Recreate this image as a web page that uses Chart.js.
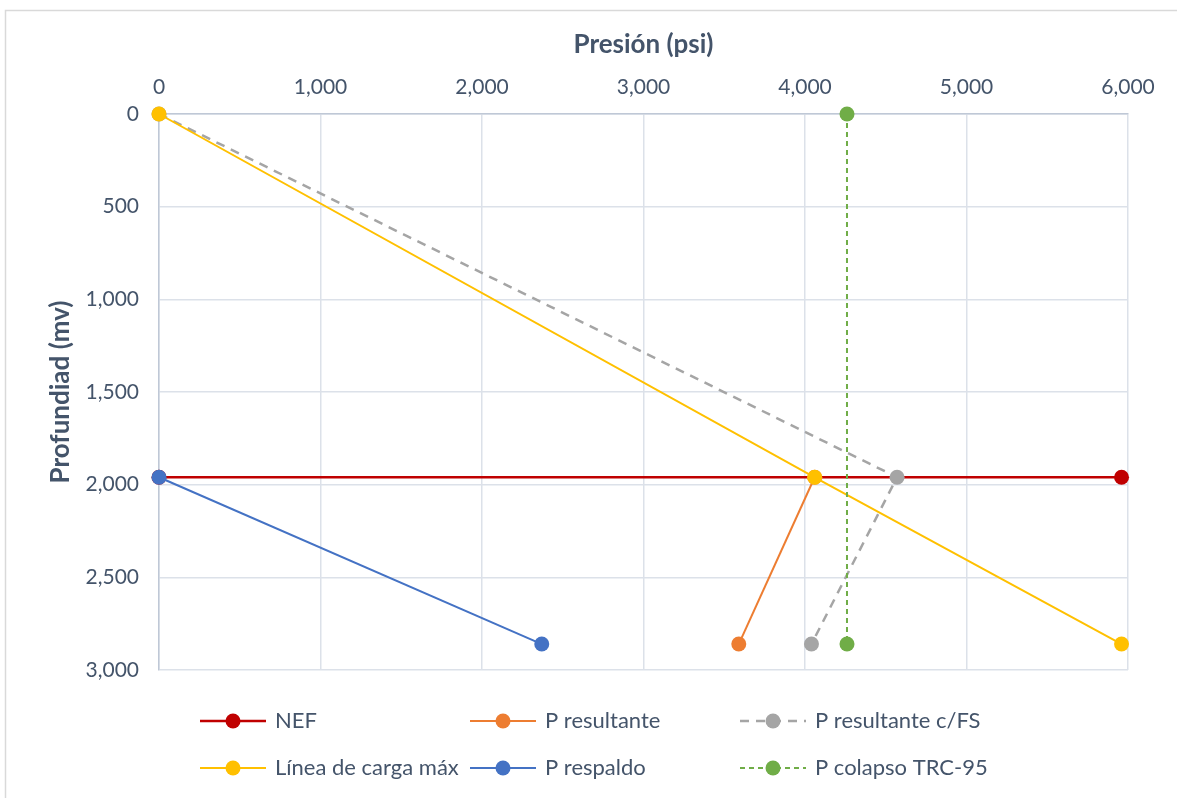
<!DOCTYPE html>
<html><head><meta charset="utf-8">
<script src="https://cdn.jsdelivr.net/npm/chart.js@4"></script>
<style>html,body{margin:0;padding:0;background:#fff;}#wrap{width:1177px;height:798px;position:relative;}</style>
</head><body><div id="wrap"><canvas id="c" width="1177" height="798"></canvas></div>
<script>
// ---- data ----
const seriesNames = ['NEF', 'P resultante', 'P resultante c/FS', 'Línea de carga máx', 'P respaldo', 'P colapso TRC-95'];
const nefPressure = [0, 5960];
const nefDepth = [1960, 1960];
const resultantePressure = [4060, 3590];
const resultanteDepth = [1960, 2860];
const resultanteFSPressure = [0, 4570, 4040];
const resultanteFSDepth = [0, 1960, 2860];
const cargaPressure = [0, 4060, 5960];
const cargaDepth = [0, 1960, 2860];
const respaldoPressure = [0, 2370];
const respaldoDepth = [1960, 2860];
const colapsoPressure = [4260, 4260];
const colapsoDepth = [0, 2860];
const pressureTicks = [0, 1000, 2000, 3000, 4000, 5000, 6000];
const depthTicks = [0, 500, 1000, 1500, 2000, 2500, 3000];
const xTitle = 'Presión (psi)';
const yTitle = 'Profundiad (mv)';

const colors = ['#C00000', '#ED7D31', '#A5A5A5', '#FFC000', '#4472C4', '#70AD47'];
const dashes = [[], [], [9, 7], [], [], [5, 4]];
const widths = [2.5, 2, 2.5, 2, 2, 2];
const xs = [nefPressure, resultantePressure, resultanteFSPressure, cargaPressure, respaldoPressure, colapsoPressure];
const ys = [nefDepth, resultanteDepth, resultanteFSDepth, cargaDepth, respaldoDepth, colapsoDepth];

const textColor = '#44546A';
const FONT = 'Lato, "Open Sans", sans-serif';

const datasets = seriesNames.map((name, i) => ({
  label: name,
  data: xs[i].map((x, k) => ({x: x, y: ys[i][k]})),
  showLine: true,
  clip: false,
  borderColor: colors[i],
  backgroundColor: colors[i],
  borderWidth: widths[i],
  borderDash: dashes[i],
  pointRadius: 7.5,
  pointBorderWidth: 0,
  pointBackgroundColor: colors[i],
  pointBorderColor: colors[i],
  order: seriesNames.length - i
}));

const bgPlugin = {
  id: 'bg',
  beforeDraw(chart) {
    const ctx = chart.ctx;
    ctx.save();
    ctx.fillStyle = '#fff';
    ctx.fillRect(0, 0, chart.width, chart.height);
    ctx.strokeStyle = '#D9D9D9';
    ctx.lineWidth = 1.5;
    ctx.strokeRect(5.5, 10.5, 1300, 1000);
    ctx.restore();
  }
};

const legendPlugin = {
  id: 'customLegend',
  afterDraw(chart) {
    const ctx = chart.ctx;
    const colX = [200, 470, 740];
    const rowY = [721, 768];
    ctx.save();
    chart.data.datasets.forEach((ds, i) => {
      const x0 = colX[i % 3], y = rowY[Math.floor(i / 3)];
      ctx.strokeStyle = ds.borderColor;
      ctx.lineWidth = ds.borderWidth;
      ctx.setLineDash(ds.borderDash.length ? ds.borderDash : []);
      ctx.beginPath(); ctx.moveTo(x0, y); ctx.lineTo(x0 + 66, y); ctx.stroke();
      ctx.setLineDash([]);
      ctx.fillStyle = ds.borderColor;
      ctx.beginPath(); ctx.arc(x0 + 33, y, 7.5, 0, Math.PI * 2); ctx.fill();
      ctx.fillStyle = textColor;
      ctx.font = '22px ' + FONT;
      ctx.textBaseline = 'middle';
      ctx.textAlign = 'left';
      ctx.fillText(ds.label, x0 + 75, y);
    });
    ctx.restore();
  }
};

new Chart(document.getElementById('c'), {
  type: 'scatter',
  data: {datasets: datasets},
  plugins: [bgPlugin, legendPlugin],
  options: {
    responsive: false,
    animation: false,
    devicePixelRatio: 1,
    layout: {padding: {left: 0, top: 0, right: 49, bottom: 128}},
    plugins: {legend: {display: false}, tooltip: {enabled: false}},
    scales: {
      x: {
        type: 'linear', position: 'top', min: 0, max: 6000,
        afterBuildTicks(s) { s.ticks = pressureTicks.map(v => ({value: v})); },
        afterFit(s) { s.height = 114; },
        ticks: {color: textColor, font: {family: FONT, size: 21}, padding: 14,
          callback: v => v.toLocaleString('en-US')},
        grid: {color: '#DCE1E9', lineWidth: 1.5, drawTicks: false},
        border: {color: '#BFC8D6', width: 1.5},
        title: {display: true, text: xTitle, color: textColor,
          font: {family: FONT, size: 26, weight: 'bold'}, padding: {top: 29, bottom: 0}}
      },
      y: {
        type: 'linear', reverse: true, min: 0, max: 3000,
        afterBuildTicks(s) { s.ticks = depthTicks.map(v => ({value: v})); },
        afterFit(s) { s.width = 159; },
        ticks: {color: textColor, font: {family: FONT, size: 21}, padding: 20,
          callback: v => v.toLocaleString('en-US')},
        grid: {color: '#DCE1E9', lineWidth: 1.5, drawTicks: false},
        border: {color: '#BFC8D6', width: 1.5},
        title: {display: true, text: yTitle, color: textColor,
          font: {family: FONT, size: 26, weight: 'bold'}, padding: {top: 45, bottom: 0}}
      }
    }
  }
});
</script></body></html>
